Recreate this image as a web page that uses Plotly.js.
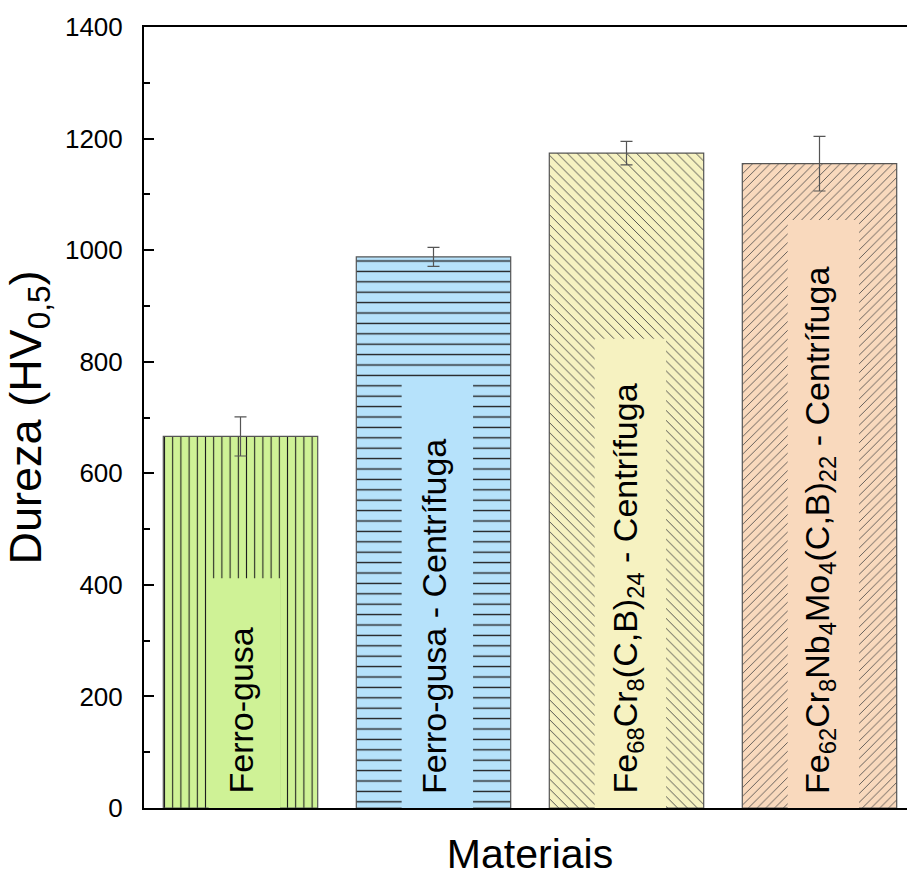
<!DOCTYPE html>
<html>
<head>
<meta charset="utf-8">
<script src="https://cdn.plot.ly/plotly-3.0.1.min.js"></script>
<style>
  html, body { margin: 0; padding: 0; overflow: hidden; background: #fff; }
  #chart { width: 930px; height: 877px; }
</style>
</head>
<body>
<div id="chart"></div>
<script>
// ---- data ----
const categories = ['Ferro-gusa', 'Ferro-gusa - Centrifuga', 'Fe68Cr8(C,B)24 - Centrifuga', 'Fe62Cr8Nb4Mo4(C,B)22 - Centrifuga'];
const barLabels = [
  'Ferro-gusa',
  'Ferro-gusa - Centrífuga',
  'Fe<sub>68</sub>Cr<sub>8</sub>(C,B)<sub>24</sub> - Centrífuga',
  'Fe<sub>62</sub>Cr<sub>8</sub>Nb<sub>4</sub>Mo<sub>4</sub>(C,B)<sub>22</sub> - Centrífuga'
];
const hardness = [666, 988, 1174, 1155];
const hardnessErr = [35, 17, 21, 49];

// ---- styles ----
const barColors = ['#cff296', '#b6e2fb', '#f6f2c1', '#f9d9bd'];
const patternShapes = ['|', '-', '\\', '/'];
const patternSizes = [8.2, 10.4, 7, 6.2];
const patternFg = ['#1e1e1e', '#1e1e1e', '#444444', '#444444'];
const labelBoxTop = [412, 764, 841, 1054];  // label background box heights (decoration)
const labelBoxHalf = 0.185;

const FONT = 'Arial, "Liberation Sans", sans-serif';

const traces = categories.map((c, i) => ({
  type: 'bar',
  x: [c],
  y: [hardness[i]],
  width: 0.8,
  marker: {
    color: barColors[i],
    line: { color: '#555555', width: 1.2 },
    pattern: {
      shape: patternShapes[i],
      size: patternSizes[i],
      solidity: 0.13,
      fgcolor: patternFg[i],
      fgopacity: 1,
      fillmode: 'overlay'
    }
  },
  error_y: {
    type: 'data',
    array: [hardnessErr[i]],
    visible: true,
    color: '#555555',
    thickness: 1.2,
    width: 6
  },
  hoverinfo: 'skip'
}));

const shapes = categories.map((c, i) => ({
  type: 'rect', xref: 'x', yref: 'y', layer: 'above',
  x0: i - labelBoxHalf + 0.02, x1: i + labelBoxHalf + 0.02,
  y0: 0, y1: labelBoxTop[i],
  fillcolor: barColors[i], line: { width: 0 }
}));

const annotations = categories.map((c, i) => ({
  x: i, y: 0, xref: 'x', yref: 'y',
  text: barLabels[i],
  textangle: -90,
  showarrow: false,
  xanchor: 'center', yanchor: 'bottom',
  yshift: 12,
  font: { family: FONT, size: 34, color: '#000' }
}));

const layout = {
  width: 930, height: 877,
  margin: { l: 144, r: 14, t: 27, b: 69 },
  paper_bgcolor: '#ffffff',
  plot_bgcolor: '#ffffff',
  showlegend: false,
  barmode: 'overlay',
  font: { family: FONT, color: '#000' },
  xaxis: {
    type: 'category',
    categoryorder: 'array',
    categoryarray: categories,
    range: [-0.5, 3.5],
    showticklabels: false,
    ticks: '',
    showgrid: false,
    zeroline: false,
    showline: true,
    linecolor: '#000',
    linewidth: 2,
    mirror: true,
    title: { text: 'Materiais', font: { family: FONT, size: 41, color: '#000' }, standoff: 31 }
  },
  yaxis: {
    range: [0, 1400],
    tickvals: [0, 200, 400, 600, 800, 1000, 1200, 1400],
    ticks: 'inside',
    ticklen: 10,
    tickwidth: 2,
    tickcolor: '#000',
    minor: { dtick: 100, ticks: 'inside', ticklen: 6, tickwidth: 2, tickcolor: '#000' },
    tickfont: { family: FONT, size: 26, color: '#000' },
    ticklabelstandoff: 14,
    showgrid: false,
    zeroline: false,
    showline: true,
    linecolor: '#000',
    linewidth: 2,
    mirror: false,
    title: { text: 'Dureza (HV<sub>0,5</sub>)', font: { family: FONT, size: 45, color: '#000' }, standoff: 15 }
  },
  shapes: shapes,
  annotations: annotations
};

Plotly.newPlot('chart', traces, layout, { displayModeBar: false, staticPlot: true });
</script>
</body>
</html>
